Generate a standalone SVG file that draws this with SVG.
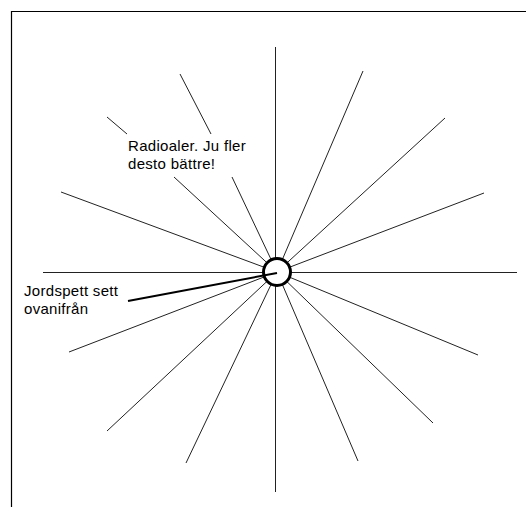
<svg xmlns="http://www.w3.org/2000/svg" width="526" height="507" viewBox="0 0 526 507">
<style>
.frame{stroke:#000;stroke-width:1.2;fill:none}
.ray{stroke:#222;stroke-width:1;fill:none}
.lbl{font-family:"Liberation Sans",Arial,sans-serif;font-size:15px;fill:#000;letter-spacing:0.3px}
</style>
<rect width="526" height="507" fill="#fff"/>
<path class="frame" d="M11.5,507 V11.5 H526"/>
<g id="connectors">
<line class="ray" x1="275.5" y1="47" x2="275.5" y2="492"/>
<line class="ray" x1="43" y1="272.5" x2="517" y2="272.5"/>
<line class="ray" x1="363" y1="71" x2="277" y2="272"/>
<line class="ray" x1="445" y1="118" x2="277" y2="272"/>
<line class="ray" x1="484" y1="193" x2="277" y2="272"/>
<line class="ray" x1="478" y1="355" x2="277" y2="272"/>
<line class="ray" x1="433" y1="423" x2="277" y2="272"/>
<line class="ray" x1="358" y1="461" x2="277" y2="272"/>
<line class="ray" x1="186" y1="463" x2="277" y2="272"/>
<line class="ray" x1="107" y1="431" x2="277" y2="272"/>
<line class="ray" x1="69" y1="352" x2="277" y2="272"/>
<line class="ray" x1="61" y1="192" x2="277" y2="272"/>
<line class="ray" x1="107" y1="117" x2="127" y2="134"/>
<line class="ray" x1="174" y1="177" x2="277" y2="272"/>
<line class="ray" x1="180" y1="74" x2="211" y2="134"/>
<line class="ray" x1="232" y1="177" x2="277" y2="272"/>
</g>
<g id="jordspett">
<circle cx="277" cy="272" r="13.5" fill="#fff" stroke="#000" stroke-width="3"/>
</g>
<g id="leader">
<line x1="128" y1="301" x2="277" y2="273" stroke="#000" stroke-width="2"/>
</g>
<g id="label-radioaler">
<text class="lbl" x="128" y="151">Radioaler. Ju fler</text>
<text class="lbl" x="128" y="169">desto bättre!</text>
</g>
<g id="label-jordspett">
<text class="lbl" x="24" y="296">Jordspett sett</text>
<text class="lbl" x="24" y="314">ovanifrån</text>
</g>
</svg>
